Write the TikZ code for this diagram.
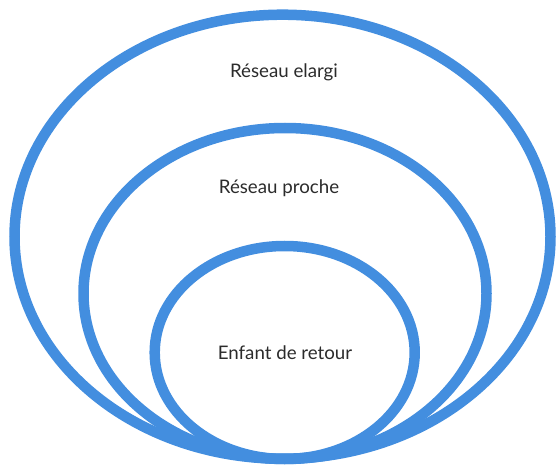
\documentclass[tikz,border=0pt]{standalone}
\usepackage{fontspec}
\setmainfont{Lato}
\definecolor{ringblue}{HTML}{438EDF}
\definecolor{txt}{HTML}{2B2B2B}
\begin{document}
\begin{tikzpicture}[x=1pt,y=-1pt,
  ring/.style={draw=ringblue,line width=10.5pt},
  lbl/.style={text=txt,font=\fontsize{18.7}{21}\selectfont,inner sep=0pt}]
\useasboundingbox (0,0) rectangle (557,465);
\draw[ring] (282.5,236.7) ellipse [x radius=268, y radius=222];
\draw[ring] (285,293.5) ellipse [x radius=201.5, y radius=165.5];
\draw[ring] (284.7,352.5) ellipse [x radius=130, y radius=106.5];
\node[lbl] (outer) at (284,72) {Réseau elargi};
\node[lbl] (middle) at (279,188) {Réseau proche};
\node[lbl] (inner) at (285,353) {Enfant de retour};
\end{tikzpicture}
\end{document}
